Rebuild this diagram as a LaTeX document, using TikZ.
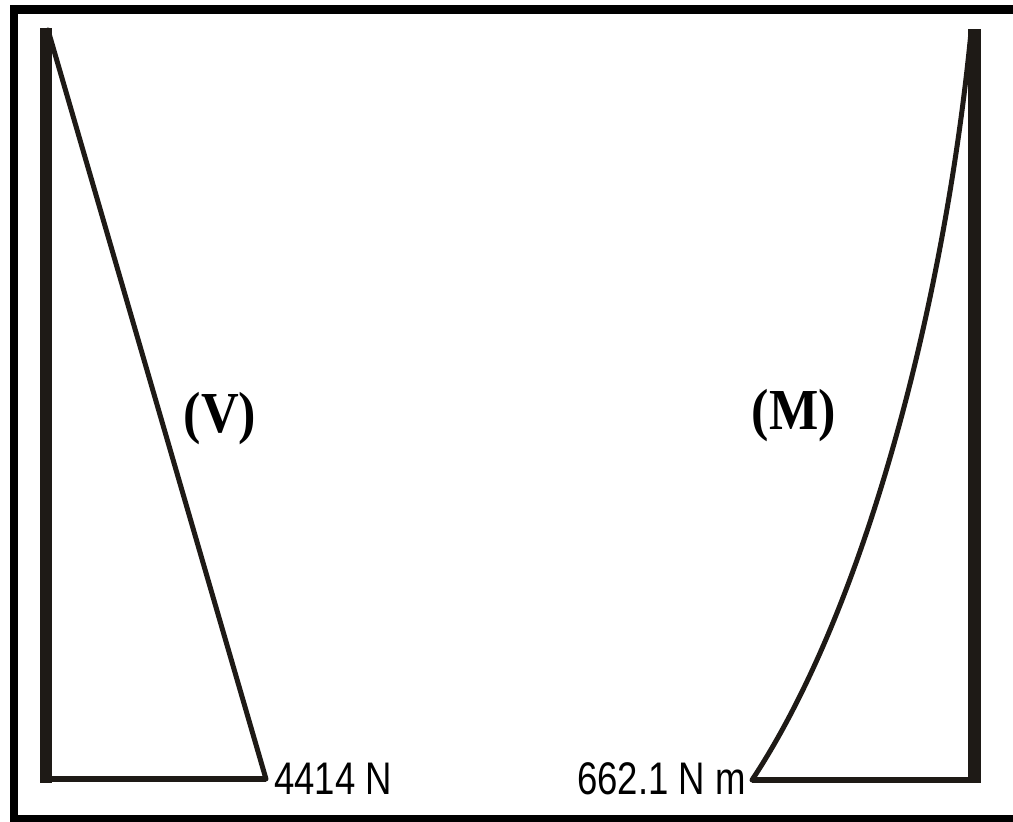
\documentclass[tikz,border=0pt]{standalone}
\usepackage{fontspec}
\setmainfont{Liberation Serif}
\newfontfamily\labelfont{Liberation Sans}
\usepackage{xcolor}
\definecolor{beamcol}{HTML}{1E1A16}

\begin{document}
\begin{tikzpicture}[
  beam/.style={line width=0.25cm, beamcol},
  base/.style={line width=0.12cm, beamcol},
  diag/.style={line width=0.1cm, beamcol, line cap=round},
  val/.style={font=\labelfont\fontsize{26}{26}\selectfont, inner sep=0pt, xscale=0.8, transform shape},
  tag/.style={font=\bfseries\fontsize{33}{33}\selectfont, inner sep=0pt, xscale=0.9, transform shape}]
\useasboundingbox (0,0) rectangle (20.26,-16.42);
% frame, open at the right
\draw[line width=0.17cm] (20.26,-0.19) -- (0.28,-0.19) -- (0.28,-16.38) -- (20.26,-16.38);
% shear force diagram
\coordinate (Vtop) at (0.92,-0.56); \coordinate (Vbot) at (0.92,-15.66);
\coordinate (Vfoot) at (0.92,-15.58); \coordinate (Vend) at (5.32,-15.58);
\draw[beam] (Vtop) -- (Vbot);
\draw[base] (Vfoot) -- (Vend);
\draw[diag] (0.96,-0.6) coordinate (Vtip) -- (Vend);
\node[val, anchor=west] (Vval) at (5.48,-15.58) {4414 N};
\node[tag] (Vtag) at (4.4,-8.38) {(V)};
% bending moment diagram
\coordinate (Mtop) at (19.49,-0.58); \coordinate (Mbot) at (19.49,-15.66);
\coordinate (Mfoot) at (19.49,-15.6); \coordinate (Mend) at (15.04,-15.6);
\draw[beam] (Mtop) -- (Mbot);
\draw[base] (Mend) -- (Mfoot);
\draw[diag] (Mend) .. controls (17.32,-12.16) and (18.9,-6.0) .. (19.42,-0.64) coordinate (Mtip);
\node[val, anchor=east] (Mval) at (14.92,-15.58) {662.1 N m};
\node[tag] (Mtag) at (15.88,-8.32) {(M)};
\end{tikzpicture}
\end{document}
